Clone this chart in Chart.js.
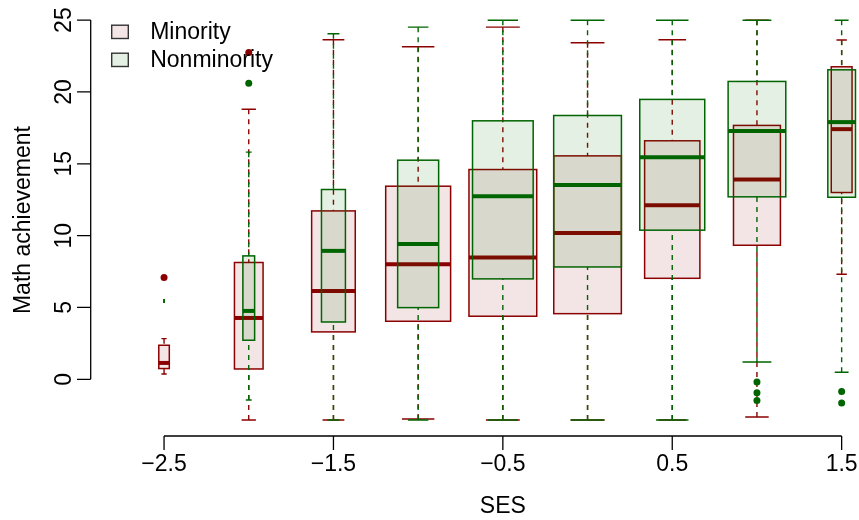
<!DOCTYPE html>
<html>
<head>
<meta charset="utf-8">
<script src="https://cdn.jsdelivr.net/npm/chart.js@4.4.1/dist/chart.umd.min.js"></script>
<style>
  html, body { margin: 0; padding: 0; background: #fff; overflow: hidden; }
  #wrap { width: 940px; height: 520px; }
</style>
</head>
<body>
<div id="wrap"><canvas id="chart" width="940" height="520"></canvas></div>
<script>
// SES groups (box positions) and axis ticks
const sesGroups = [-2.5, -2, -1.5, -1, -0.5, 0, 0.5, 1, 1.5];
const xTickValues = [-2.5, -1.5, -0.5, 0.5, 1.5];
const yTickValues = [0, 5, 10, 15, 20, 25];

// Minority students: five-number summaries per SES group
const minorityLow  = [0.37, -2.83, -2.83, -2.76, -2.83, -2.83, -2.83, -2.62, 7.31];
const minorityQ1   = [0.75, 0.72, 3.30, 4.04, 4.39, 4.57, 7.03, 9.33, 13.00];
const minorityMed  = [1.14, 4.27, 6.15, 8.01, 8.47, 10.19, 12.12, 13.90, 17.41];
const minorityQ3   = [2.37, 8.13, 11.72, 13.44, 14.60, 15.55, 16.60, 17.67, 21.75];
const minorityHigh = [2.83, 18.80, 23.63, 23.14, 24.51, 23.42, 23.63, 24.99, 23.61];
const minorityN    = [10, 74, 172, 381, 415, 413, 276, 199, 39];
const minorityOutliers = [
  { x: -2.5, y: 7.08 },
  { x: -2, y: 22.75 }
];

// Nonminority students
const nonminorityLow  = [5.45, -1.44, -2.83, -2.83, -2.83, -2.83, -2.83, 1.21, 0.49];
const nonminorityQ1   = [5.45, 2.72, 3.99, 4.99, 6.99, 7.82, 10.38, 12.70, 12.67];
const nonminorityMed  = [5.45, 4.76, 8.94, 9.42, 12.74, 13.53, 15.46, 17.29, 17.90];
const nonminorityQ3   = [5.45, 8.59, 13.21, 15.25, 17.99, 18.36, 19.48, 20.73, 21.54];
const nonminorityHigh = [5.45, 15.81, 24.05, 24.51, 24.99, 24.99, 24.99, 24.99, 24.99];
const nonminorityN    = [1, 38, 158, 463, 1014, 1265, 1163, 916, 211];
const nonminorityOutliers = [
  { x: -2, y: 20.61 },
  { x: 1, y: -0.18 }, { x: 1, y: -0.93 }, { x: 1, y: -1.48 },
  { x: 1.5, y: -0.84 }, { x: 1.5, y: -1.65 }
];

const RED = '#8B0000';
const GREEN = '#006400';
const FONT = { family: '"Liberation Sans", Arial, Helvetica, sans-serif', size: 23 };
const FONT_CSS = '23px "Liberation Sans", Arial, Helvetica, sans-serif';

const series = [
  { label: 'Minority', color: RED, fill: 'rgba(139,0,0,0.10)',
    low: minorityLow, q1: minorityQ1, med: minorityMed, q3: minorityQ3, high: minorityHigh, n: minorityN },
  { label: 'Nonminority', color: GREEN, fill: 'rgba(0,115,0,0.11)',
    low: nonminorityLow, q1: nonminorityQ1, med: nonminorityMed, q3: nonminorityQ3, high: nonminorityHigh, n: nonminorityN }
];

// full box width (SES units) for the largest group; others scale with sqrt(n)
const BOX_WEX = 0.4;

const fmt = v => (v < 0 ? '\u2212' + Math.abs(v) : String(v));

const boxPlugin = {
  id: 'varwidthBoxes',
  beforeDatasetsDraw(chart) {
    const { ctx, scales: { x, y } } = chart;
    ctx.save();
    series.forEach(s => {
      const nMax = Math.max(...s.n);
      sesGroups.forEach((g, i) => {
        const half = BOX_WEX * Math.sqrt(s.n[i] / nMax) / 2;
        const xc = x.getPixelForValue(g);
        const xl = x.getPixelForValue(g - half);
        const xr = x.getPixelForValue(g + half);
        const sl = x.getPixelForValue(g - half / 2);
        const sr = x.getPixelForValue(g + half / 2);
        const yLow = y.getPixelForValue(s.low[i]);
        const yQ1 = y.getPixelForValue(s.q1[i]);
        const yMed = y.getPixelForValue(s.med[i]);
        const yQ3 = y.getPixelForValue(s.q3[i]);
        const yHigh = y.getPixelForValue(s.high[i]);

        // box fill
        ctx.fillStyle = s.fill;
        ctx.fillRect(xl, yQ3, xr - xl, yQ1 - yQ3);

        // dashed whiskers, drawn from the whisker ends toward the box
        ctx.strokeStyle = s.color;
        ctx.lineWidth = 1.4;
        ctx.lineCap = 'butt';
        ctx.setLineDash([5, 5]);
        ctx.beginPath();
        ctx.moveTo(xc, yLow); ctx.lineTo(xc, yQ1);
        ctx.moveTo(xc, yHigh); ctx.lineTo(xc, yQ3);
        ctx.stroke();
        ctx.setLineDash([]);

        // staples
        ctx.beginPath();
        ctx.moveTo(sl, yLow); ctx.lineTo(sr, yLow);
        ctx.moveTo(sl, yHigh); ctx.lineTo(sr, yHigh);
        ctx.stroke();

        // box outline
        ctx.lineWidth = 1.5;
        ctx.strokeRect(xl, yQ3, xr - xl, yQ1 - yQ3);

        // median
        ctx.lineWidth = 4;
        ctx.beginPath();
        ctx.moveTo(xl, yMed); ctx.lineTo(xr, yMed);
        ctx.stroke();
      });
    });
    ctx.restore();
  },
  afterDraw(chart) {
    const { ctx, chartArea, scales: { x, y } } = chart;
    ctx.save();
    ctx.strokeStyle = '#000';
    ctx.fillStyle = '#000';
    ctx.lineWidth = 1.3;

    // x axis: line between first and last tick, tick marks below
    const xs = xTickValues.map(v => x.getPixelForValue(v));
    const yb = chartArea.bottom;
    ctx.beginPath();
    ctx.moveTo(xs[0], yb); ctx.lineTo(xs[xs.length - 1], yb);
    xs.forEach(px => { ctx.moveTo(px, yb); ctx.lineTo(px, yb + 14); });
    ctx.stroke();

    // y axis: line, tick marks and rotated labels
    const ys = yTickValues.map(v => y.getPixelForValue(v));
    const xl = chartArea.left;
    ctx.beginPath();
    ctx.moveTo(xl, ys[0]); ctx.lineTo(xl, ys[ys.length - 1]);
    ys.forEach(py => { ctx.moveTo(xl, py); ctx.lineTo(xl - 13.7, py); });
    ctx.stroke();

    ctx.font = FONT_CSS;
    ctx.textAlign = 'center';
    ctx.textBaseline = 'alphabetic';
    yTickValues.forEach((v, i) => {
      ctx.save();
      ctx.translate(xl - 19.7, ys[i]);
      ctx.rotate(-Math.PI / 2);
      ctx.fillText(fmt(v), 0, 0);
      ctx.restore();
    });

    // legend in the top-left corner of the plot region
    ctx.textAlign = 'left';
    ctx.textBaseline = 'middle';
    series.forEach((s, i) => {
      const cy = chartArea.top + 27.6 + i * 28;
      const bx = chartArea.left + 21;
      ctx.fillStyle = s.fill;
      ctx.fillRect(bx, cy - 6.6, 16.6, 13.3);
      ctx.strokeStyle = '#333';
      ctx.lineWidth = 1.4;
      ctx.strokeRect(bx, cy - 6.6, 16.6, 13.3);
      ctx.fillStyle = '#000';
      ctx.fillText(s.label, chartArea.left + 59.5, cy + 0.5);
    });
    ctx.restore();
  }
};

new Chart(document.getElementById('chart'), {
  type: 'scatter',
  data: {
    datasets: [
      { label: 'Minority', data: minorityOutliers, backgroundColor: RED, borderColor: RED,
        pointRadius: 3.5, pointBorderWidth: 0, pointHoverRadius: 3.5 },
      { label: 'Nonminority', data: nonminorityOutliers, backgroundColor: GREEN, borderColor: GREEN,
        pointRadius: 3.5, pointBorderWidth: 0, pointHoverRadius: 3.5 }
    ]
  },
  options: {
    responsive: false,
    animation: false,
    devicePixelRatio: 1,
    layout: { padding: { top: 4.2, right: 25, bottom: 0, left: 0 } },
    plugins: { legend: { display: false }, tooltip: { enabled: false } },
    scales: {
      x: {
        type: 'linear',
        min: -2.933, max: 1.933,
        afterBuildTicks: s => { s.ticks = xTickValues.map(v => ({ value: v })); },
        afterFit: s => { s.height = 84; },
        grid: { display: false, drawTicks: false },
        border: { display: false },
        ticks: { color: '#000', font: FONT, padding: 15, autoSkip: false, maxRotation: 0, minRotation: 0,
                 callback: v => fmt(v) },
        title: { display: true, text: 'SES', color: '#000', font: FONT, padding: { top: 0, bottom: 0 } }
      },
      y: {
        type: 'linear',
        min: -3.945, max: 26.106,
        afterBuildTicks: s => { s.ticks = yTickValues.map(v => ({ value: v })); },
        afterFit: s => { s.width = 90.7; },
        grid: { display: false, drawTicks: false },
        border: { display: false },
        ticks: { display: false },
        title: { display: true, text: 'Math achievement', color: '#000', font: FONT, padding: { top: 10, bottom: 0 } }
      }
    }
  },
  plugins: [boxPlugin]
});
</script>
</body>
</html>
